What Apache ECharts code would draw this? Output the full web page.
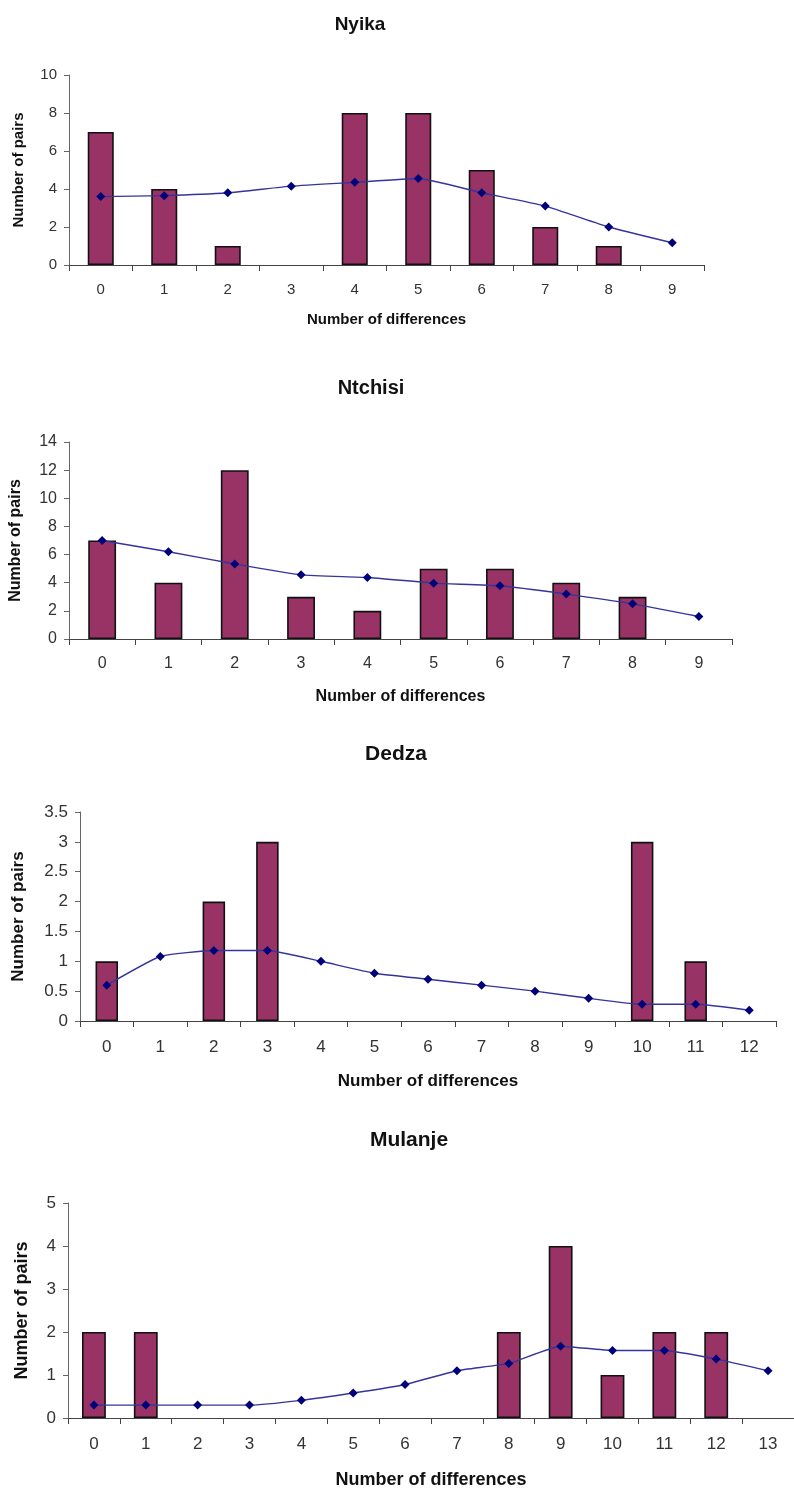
<!DOCTYPE html>
<html>
<head>
<meta charset="utf-8">
<script src="https://cdn.jsdelivr.net/npm/echarts@6/dist/echarts.min.js"></script>
<style>
  html, body { margin: 0; padding: 0; background: #fff; }
  #chart { width: 794px; height: 1493px; }
</style>
</head>
<body>
<div id="chart"></div>
<script>
// Pairwise differences per site: bars = observed pairs, line = expected distribution
const nyikaCats = ['0','1','2','3','4','5','6','7','8','9'];
const nyikaObserved = [7, 4, 1, 0, 8, 8, 5, 2, 1, 0];
const nyikaExpected = [3.6, 3.65, 3.8, 4.15, 4.35, 4.55, 3.8, 3.1, 2.0, 1.17];

const ntchisiCats = ['0','1','2','3','4','5','6','7','8','9'];
const ntchisiObserved = [7, 4, 12, 3, 2, 5, 5, 4, 3, 0];
const ntchisiExpected = [7.0, 6.2, 5.33, 4.56, 4.37, 3.97, 3.78, 3.19, 2.5, 1.6];

const dedzaCats = ['0','1','2','3','4','5','6','7','8','9','10','11','12'];
const dedzaObserved = [1, 0, 2, 3, 0, 0, 0, 0, 0, 0, 3, 1, 0];
const dedzaExpected = [0.6, 1.08, 1.18, 1.18, 1.0, 0.8, 0.7, 0.6, 0.5, 0.38, 0.28, 0.28, 0.18];

const mulanjeCats = ['0','1','2','3','4','5','6','7','8','9','10','11','12','13'];
const mulanjeObserved = [2, 2, 0, 0, 0, 0, 0, 0, 2, 4, 1, 2, 2, 0];
const mulanjeExpected = [0.3, 0.3, 0.3, 0.3, 0.41, 0.58, 0.78, 1.1, 1.27, 1.67, 1.57, 1.57, 1.37, 1.1];

const siteNames = ['Nyika', 'Ntchisi', 'Dedza', 'Mulanje'];
const yMax = [10, 14, 3.5, 5];
const yStep = [2, 2, 0.5, 1];

const FONT = '"Liberation Sans", Arial, sans-serif';
const BAR_COLOR = '#993366';
const LINE_COLOR = '#34349c';
const MARK_COLOR = '#00007a';

const panels = [
  { cats: nyikaCats, obs: nyikaObserved, exp: nyikaExpected,
    grid: { left: 69, top: 75, width: 635, height: 190 },
    title: { x: 355, y: 10, size: 19 }, barWidth: '41%',
    tick: 15, axisName: 15, xLabelMargin: 17, xNameGap: 47, yNameGap: 43 },
  { cats: ntchisiCats, obs: ntchisiObserved, exp: ntchisiExpected,
    grid: { left: 67, top: 442, width: 665, height: 197 },
    title: { x: 366, y: 373, size: 20 }, barWidth: '42%',
    tick: 16, axisName: 16, xLabelMargin: 17, xNameGap: 50, yNameGap: 45 },
  { cats: dedzaCats, obs: dedzaObserved, exp: dedzaExpected,
    grid: { left: 80, top: 812, width: 696, height: 209 },
    title: { x: 391, y: 739, size: 21 }, barWidth: '42%',
    tick: 17, axisName: 17, xLabelMargin: 18, xNameGap: 52, yNameGap: 53 },
  { cats: mulanjeCats, obs: mulanjeObserved, exp: mulanjeExpected,
    grid: { left: 68, top: 1203, width: 728, height: 215 },
    title: { x: 404, y: 1125, size: 21 }, barWidth: '46%',
    tick: 17, axisName: 18, xLabelMargin: 18, xNameGap: 53, yNameGap: 37 }
];

const option = {
  animation: false,
  backgroundColor: '#ffffff',
  title: [], grid: [], xAxis: [], yAxis: [], series: []
};

panels.forEach((p, i) => {
  option.title.push({
    text: siteNames[i],
    left: p.title.x,
    top: p.title.y,
    textAlign: 'center',
    textStyle: { fontFamily: FONT, fontWeight: 'bold', fontSize: p.title.size, color: '#111' }
  });
  option.grid.push(Object.assign({ containLabel: false }, p.grid));
  option.xAxis.push({
    type: 'category',
    gridIndex: i,
    data: p.cats,
    boundaryGap: true,
    name: 'Number of differences',
    nameLocation: 'middle',
    nameGap: p.xNameGap,
    nameTextStyle: { fontFamily: FONT, fontWeight: 'bold', fontSize: p.axisName, color: '#111' },
    axisLine: { lineStyle: { color: '#444', width: 1 } },
    axisTick: { show: true, length: 6, lineStyle: { color: '#444' } },
    axisLabel: { fontFamily: FONT, fontSize: p.tick, color: '#333', margin: p.xLabelMargin, interval: 0 },
    splitLine: { show: false }
  });
  option.yAxis.push({
    type: 'value',
    gridIndex: i,
    min: 0,
    max: yMax[i],
    interval: yStep[i],
    name: 'Number of pairs',
    nameLocation: 'middle',
    nameGap: p.yNameGap,
    nameRotate: 90,
    nameTextStyle: { fontFamily: FONT, fontWeight: 'bold', fontSize: p.axisName, color: '#111' },
    axisLine: { show: true, lineStyle: { color: '#666', width: 1 } },
    axisTick: { show: true, length: 5, lineStyle: { color: '#666' } },
    axisLabel: { fontFamily: FONT, fontSize: p.tick, color: '#333', margin: 12 },
    splitLine: { show: false }
  });
  option.series.push({
    type: 'bar',
    xAxisIndex: i,
    yAxisIndex: i,
    // empty classes get no outline so no stub shows on the baseline
    data: p.obs.map(v => v === 0 ? { value: v, itemStyle: { borderWidth: 0 } } : v),
    barWidth: p.barWidth,
    itemStyle: { color: BAR_COLOR, borderColor: '#111', borderWidth: 1.6 },
    z: 2
  });
  option.series.push({
    type: 'line',
    xAxisIndex: i,
    yAxisIndex: i,
    data: p.exp,
    smooth: 0.15,
    symbol: 'diamond',
    symbolSize: 9,
    lineStyle: { color: LINE_COLOR, width: 1.4 },
    itemStyle: { color: MARK_COLOR },
    z: 3
  });
});

const chart = echarts.init(document.getElementById('chart'), null, { renderer: 'canvas' });
chart.setOption(option);
</script>
</body>
</html>
